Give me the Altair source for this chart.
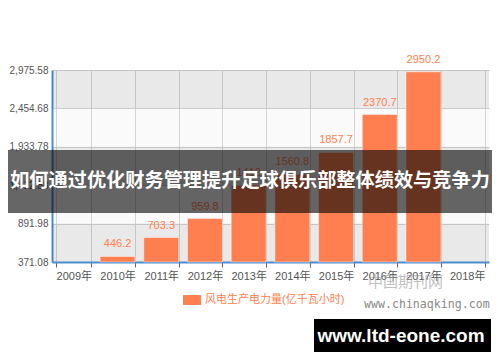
import altair as alt
import pandas as pd

years = ["2009年", "2010年", "2011年", "2012年", "2013年", "2014年", "2015年", "2016年", "2017年", "2018年"]
bar_years = ["2010年", "2011年", "2012年", "2013年", "2014年", "2015年", "2016年", "2017年"]
values = [446.2, 703.3, 959.8, 1412, 1560.8, 1857.7, 2370.7, 2950.2]
y_ticks = [371.08, 891.98, 1412.88, 1933.78, 2454.68, 2975.58]
series_name = "风电生产电力量(亿千瓦小时)"
banner_title = "如何通过优化财务管理提升足球俱乐部整体绩效与竞争力"
site_text = "www.ltd-eone.com"
wm_text1 = "中国期刊网"
wm_text2 = "www.chinaqking.com"

CORAL = "#ff7f50"
FONT = "Liberation Sans, Noto Sans CJK SC"

df = pd.DataFrame({"year": bar_years, "value": values, "series": [series_name] * len(values)})
bands = pd.DataFrame({
    "lo": [y_ticks[i] for i in range(0, len(y_ticks) - 1, 2)],
    "hi": [y_ticks[i + 1] for i in range(0, len(y_ticks) - 1, 2)],
})

yscale = alt.Scale(domain=[y_ticks[0], y_ticks[-1]], nice=False, zero=False)
xscale = alt.Scale(domain=years, paddingInner=0.2, paddingOuter=0.1)

xaxis = alt.Axis(labelAngle=0, tickBand="extent", grid=True, gridColor="#d4d4d4",
                 domainColor="#4f8fd1", domainWidth=2, tickColor="#666666", tickSize=5,
                 labelColor="#555555", labelFontSize=11, labelFont=FONT, labelPadding=3)
yaxis = alt.Axis(values=y_ticks, format=",.2f", grid=True, gridColor="#d4d4d4",
                 domainColor="#4f8fd1", domainWidth=2, ticks=False,
                 labelOverlap=False, labelFlush=False, labelBound=False,
                 labelColor="#555555", labelFontSize=10, labelFont=FONT, labelPadding=4)

band_layer = alt.Chart(bands).mark_rect(color="#000000", opacity=0.065).encode(
    x=alt.value(0), x2=alt.value(437),
    y=alt.Y("lo:Q", scale=yscale, axis=yaxis, title=None), y2="hi:Q",
)

bars = alt.Chart(df).mark_bar(stroke="#ffffff", strokeOpacity=0.45, strokeWidth=1).encode(
    x=alt.X("year:N", scale=xscale, sort=years, title=None, axis=xaxis),
    y=alt.Y("value:Q", scale=yscale, title=None, axis=yaxis),
    y2=alt.datum(y_ticks[0]),
    color=alt.Color("series:N", scale=alt.Scale(domain=[series_name], range=[CORAL]),
                    legend=alt.Legend(orient="none", legendX=131, legendY=221, title=None,
                                      labelColor=CORAL, labelFontSize=11, labelFont=FONT,
                                      symbolType="M-1,-0.55H1V0.55H-1Z", symbolSize=324,
                                      symbolStrokeWidth=0, symbolOpacity=1, labelOffset=4)),
)

labels = alt.Chart(df).mark_text(color=CORAL, fontSize=11, font=FONT, baseline="bottom", dy=-7).encode(
    x=alt.X("year:N", scale=xscale, sort=years, title=None, axis=xaxis),
    y=alt.Y("value:Q", scale=yscale, title=None, axis=yaxis),
    text="value:Q",
)

banner_df = pd.DataFrame({"t": [banner_title]})
banner_rect = alt.Chart(banner_df).mark_rect(color="#000000", opacity=0.6).encode(
    x=alt.value(-44), x2=alt.value(440), y=alt.value(80), y2=alt.value(143)
)
banner_text = alt.Chart(banner_df).mark_text(
    color="#ffffff", fontSize=19.2, fontWeight="bold", font="Noto Sans CJK SC", align="center", baseline="middle"
).encode(x=alt.value(198), y=alt.value(111), text="t:N")

wm_df = pd.DataFrame({"a": [wm_text1], "b": [wm_text2]})
wm1 = alt.Chart(wm_df).mark_text(
    color="#999999", opacity=0.6, fontSize=15, font="Noto Sans CJK SC", align="left", baseline="middle"
).encode(x=alt.value(316), y=alt.value(212), text="a:N")
wm2 = alt.Chart(wm_df).mark_text(
    color="#888888", fontSize=11.6, font="DejaVu Sans Mono", align="left", baseline="middle"
).encode(x=alt.value(312), y=alt.value(235), text="b:N")

site_df = pd.DataFrame({"t": [site_text]})
site_rect = alt.Chart(site_df).mark_rect(color="#000000").encode(
    x=alt.value(262), x2=alt.value(439), y=alt.value(249), y2=alt.value(282)
)
site_label = alt.Chart(site_df).mark_text(
    color="#ffffff", fontSize=19, fontWeight="bold", font="Liberation Sans", align="center", baseline="middle"
).encode(x=alt.value(349), y=alt.value(266), text="t:N")

chart = alt.layer(
    band_layer, bars, labels, banner_rect, banner_text, wm1, wm2, site_rect, site_label
).properties(
    width=437, height=192,
    autosize=alt.AutoSizeParams(type="none"),
    padding={"left": 44, "top": 62, "right": 3, "bottom": 92},
    background="#ffffff",
).configure_view(fill="#fafafa", stroke=None)

chart.save("out.html", embed_options={"renderer": "svg", "actions": False})
